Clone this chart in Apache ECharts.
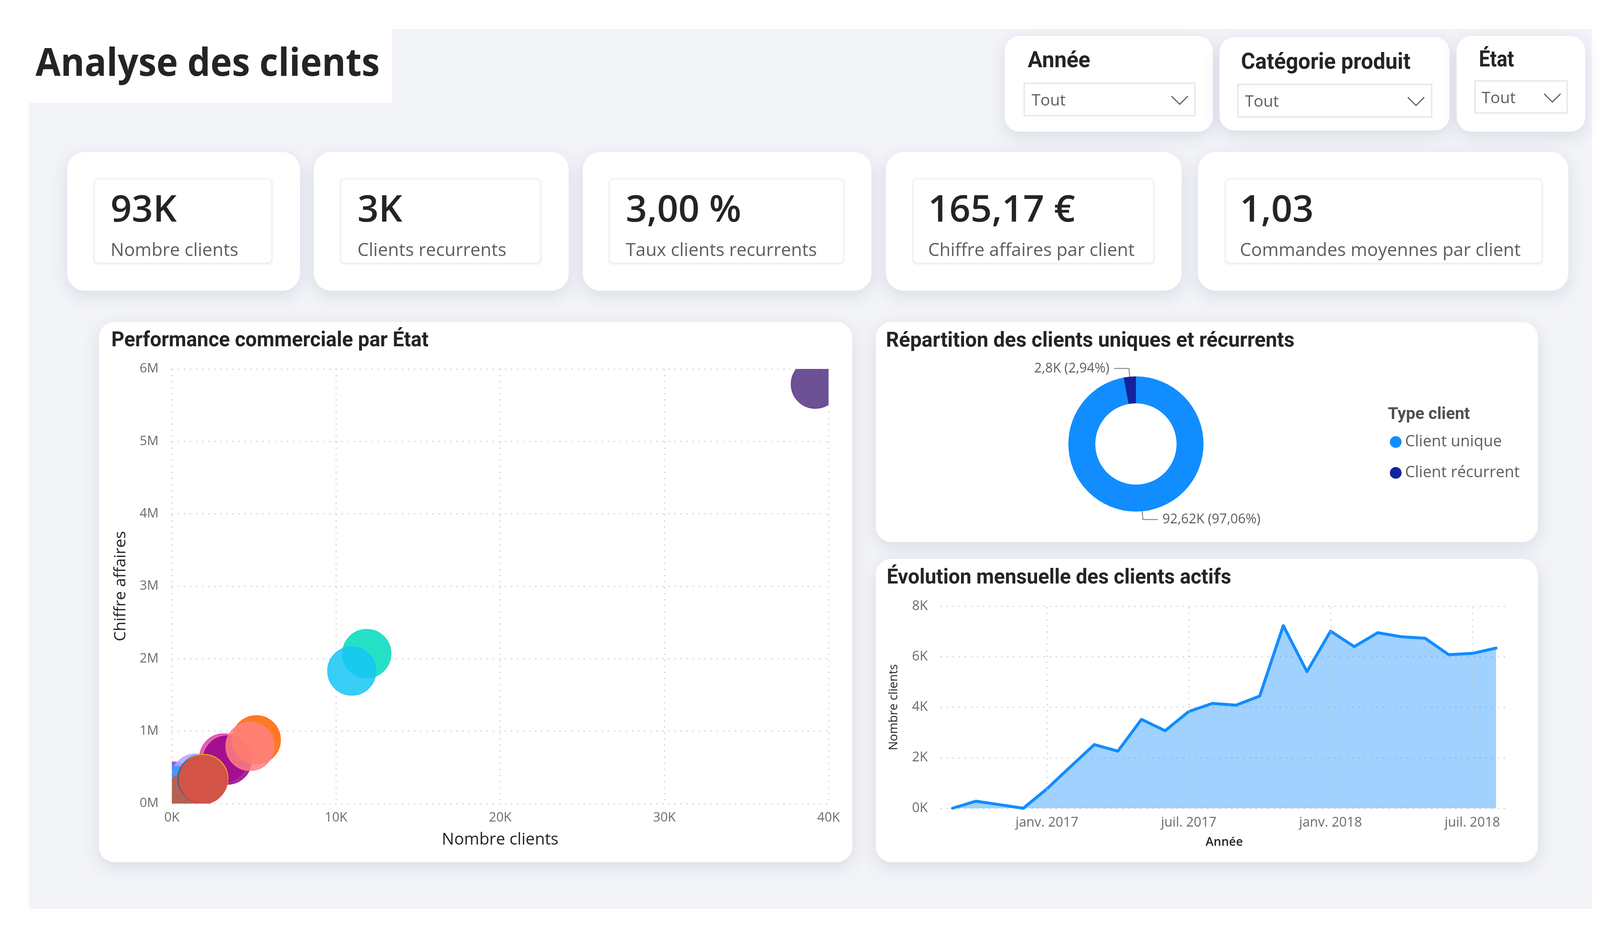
<!DOCTYPE html>
<html>
<head>
<meta charset="utf-8">
<script src="https://cdn.jsdelivr.net/npm/echarts@6/dist/echarts.min.js"></script>
<style>
html,body{margin:0;padding:0;background:#ffffff;}
#c{width:4150px;height:2400px;}
</style>
</head>
<body>
<div id="c"></div>
<script>
// ---------------- DATA ----------------
const pageTitle = 'Analyse des clients';
const slicerTitles = ['Année', 'Catégorie produit', 'État'];
const slicerValues = ['Tout', 'Tout', 'Tout'];
const kpiValues = ['93K', '3K', '3,00 %', '165,17 €', '1,03'];
const kpiLabels = ['Nombre clients', 'Clients recurrents', 'Taux clients recurrents', 'Chiffre affaires par client', 'Commandes moyennes par client'];

const scatterTitle = 'Performance commerciale par État';
const states = ['SP', 'RJ', 'MG', 'BA', 'SC', 'RS', 'PR', 'MA', 'PE', 'CE', 'PA', 'GO', 'ES', 'DF'];
const stateClients = [39200, 11870, 10960, 3160, 3380, 5140, 4760, 50, 1430, 190, 900, 1830, 1950, 1900];
const stateRevenue = [5790000, 2070000, 1830000, 630000, 600000, 880000, 790000, 240000, 350000, 180000, 80000, 340000, 345000, 330000];

const donutTitle = 'Répartition des clients uniques et récurrents';
const legendTitle = 'Type client';
const clientTypes = ['Client unique', 'Client récurrent'];
const clientCounts = [92620, 2801];

const lineTitle = 'Évolution mensuelle des clients actifs';
const months = ['sept. 2016', 'oct. 2016', 'nov. 2016', 'déc. 2016', 'janv. 2017', 'févr. 2017', 'mars 2017', 'avr. 2017', 'mai 2017', 'juin 2017', 'juil. 2017', 'août 2017', 'sept. 2017', 'oct. 2017', 'nov. 2017', 'déc. 2017', 'janv. 2018', 'févr. 2018', 'mars 2018', 'avr. 2018', 'mai 2018', 'juin 2018', 'juil. 2018', 'août 2018'];
const activeClients = [0, 280, null, 0, 770, 1650, 2520, 2260, 3520, 3070, 3830, 4150, 4080, 4440, 7230, 5410, 7010, 6400, 6950, 6790, 6730, 6080, 6130, 6340];
const monthTicks = ['janv. 2017', 'juil. 2017', 'janv. 2018', 'juil. 2018'];

// ---------------- STYLE ----------------
const stateColors = ['#533285', '#00DBBC', '#15C6F4', '#E044A7', '#99008A', '#FF6300', '#FF8080', '#744EC2', '#B5A1FF', '#4092FF', '#C65A35', '#197278', '#D9B300', '#D64550'];
const donutColors = ['#118DFF', '#12239E'];
const SEGOE = '"Open Sans", "Noto Sans", sans-serif';
const DIN = 'Roboto, "Open Sans", sans-serif';
const GRID_LINE = { color: '#c6c6c6', width: 2.5, type: [3, 12.5] };
const LABEL_GREY = '#6b6b6b';
const BUBBLE_R = 62;

const measureCtx = document.createElement('canvas').getContext('2d');
function fitScale(str, font, targetWidth) {
  if (!targetWidth) return 1;
  measureCtx.font = font;
  const w = measureCtx.measureText(str).width;
  return w > 0 ? targetWidth / w : 1;
}

function fmtThousands(v) {
  return (v / 1000).toFixed(2).replace(/0+$/, '').replace(/\.$/, '').replace('.', ',') + 'K';
}

function buildGraphics() {
  const els = [];
  function rect(x1, y1, x2, y2, style, r, z) {
    els.push({ type: 'rect', z: z === undefined ? -10 : z, silent: true,
      shape: { x: x1, y: y1, width: x2 - x1, height: y2 - y1, r: r || 0 }, style: style });
  }
  function card(x1, y1, x2, y2, r) {
    rect(x1, y1, x2, y2, { fill: '#ffffff', shadowBlur: 45, shadowOffsetY: 12, shadowColor: 'rgba(35,55,110,0.13)' }, r || 40, -9);
  }
  function text(str, x, y, font, fill, targetWidth) {
    const s = fitScale(str, font, targetWidth);
    els.push({ type: 'text', z: 20, silent: true, x: x, y: y, scaleX: s, scaleY: 1, originX: 0, originY: 0,
      style: { text: str, font: font, fill: fill, textAlign: 'left', align: 'left',
        textVerticalAlign: 'middle', verticalAlign: 'middle' } });
  }

  rect(74, 74, 4075, 2325, { fill: '#f3f4f8' }, 0, -20);
  rect(74, 74, 1003, 263, { fill: '#ffffff' }, 0, -15);
  text(pageTitle, 91, 166, '700 98px ' + SEGOE, '#252423', 881);

  const slicerBoxes = [
    { card: [2572, 92, 3105, 337], title: [2631, 158, 160], box: [2622, 213, 3059, 296], val: [2641, 258], chev: [3020, 246, 267] },
    { card: [3122, 95, 3711, 334], title: [3177, 162, 434], box: [3169, 216, 3665, 299], val: [3187, 261], chev: [3625, 249, 270] },
    { card: [3729, 92, 4058, 337], title: [3786, 156, 90], box: [3776, 207, 4012, 289], val: [3793, 252], chev: [3974, 240, 261] }
  ];
  slicerBoxes.forEach(function (s, i) {
    card(s.card[0], s.card[1], s.card[2], s.card[3], 38);
    text(slicerTitles[i], s.title[0], s.title[1], 'bold 57px ' + DIN, '#252423', s.title[2]);
    rect(s.box[0], s.box[1], s.box[2], s.box[3], { fill: '#ffffff', stroke: '#e4e4e4', lineWidth: 3 }, 0, -5);
    text(slicerValues[i], s.val[0], s.val[1], '400 41px ' + SEGOE, '#605E5C');
    els.push({ type: 'polyline', z: 20, silent: true,
      shape: { points: [[s.chev[0] - 21, s.chev[1]], [s.chev[0], s.chev[2]], [s.chev[0] + 21, s.chev[1]]] },
      style: { stroke: '#505050', lineWidth: 2.5, fill: null } });
  });

  const kpiCards = [[172, 389, 768, 744], [803, 389, 1456, 744], [1492, 389, 2231, 744], [2268, 389, 3025, 744], [3067, 389, 4015, 744]];
  const kpiInner = [[241, 457, 696, 673], [872, 457, 1384, 673], [1560, 457, 2160, 673], [2337, 457, 2954, 673], [3137, 457, 3948, 673]];
  const kpiTextX = [283, 915, 1602, 2376, 3174];
  kpiCards.forEach(function (c, i) {
    card(c[0], c[1], c[2], c[3], 45);
    const b = kpiInner[i];
    rect(b[0], b[1], b[2], b[3], { fill: '#ffffff', stroke: '#ededed', lineWidth: 2, shadowBlur: 6, shadowOffsetY: 3, shadowColor: 'rgba(0,0,0,0.06)' }, 10, -5);
    text(kpiValues[i], kpiTextX[i], 540, '600 95px ' + SEGOE, '#252423');
    text(kpiLabels[i], kpiTextX[i], 642, '400 46px ' + SEGOE, '#605E5C');
  });

  card(253, 824, 2182, 2206, 40);
  card(2242, 824, 3937, 1387, 40);
  card(2242, 1430, 3937, 2206, 40);
  text(scatterTitle, 285, 873, 'bold 53px ' + DIN, '#252423', 812);
  text(donutTitle, 2268, 874, 'bold 53px ' + DIN, '#252423', 1046);
  text(lineTitle, 2270, 1480, 'bold 53px ' + DIN, '#252423', 882);
  text(legendTitle, 3553, 1061, 'bold 42px ' + DIN, '#505050', 210);
  return els;
}

const chart = echarts.init(document.getElementById('c'), null, { renderer: 'canvas' });

function render() {
  chart.setOption({
    animation: false,
    backgroundColor: '#ffffff',
    textStyle: { fontFamily: SEGOE },
    graphic: { elements: buildGraphics() },
    grid: [
      { left: 440, top: 944, width: 1681, height: 1112, outerBoundsMode: 'none', containLabel: false },
      { left: 2408, top: 1551, width: 1452, height: 517, outerBoundsMode: 'none', containLabel: false }
    ],
    xAxis: [
      {
        gridIndex: 0, type: 'value', min: 0, max: 40000, interval: 10000,
        axisLine: { show: false }, axisTick: { show: false },
        splitLine: { show: true, lineStyle: GRID_LINE },
        axisLabel: { formatter: function (v) { return (v / 1000) + 'K'; }, color: LABEL_GREY, fontSize: 33, margin: 20, fontFamily: SEGOE },
        name: 'Nombre clients', nameLocation: 'middle', nameGap: 72, nameMoveOverlap: false,
        nameTextStyle: { fontSize: 42, color: '#252423', fontFamily: SEGOE }
      },
      {
        gridIndex: 1, type: 'category', data: months, boundaryGap: true,
        axisLine: { show: false }, axisTick: { show: false },
        splitLine: { show: false },
        axisLabel: { interval: function (i, v) { return monthTicks.indexOf(v) >= 0; }, color: LABEL_GREY, fontSize: 34, margin: 20, fontFamily: SEGOE },
        name: 'Année', nameLocation: 'middle', nameGap: 72, nameMoveOverlap: false,
        nameTextStyle: { fontSize: 31, fontWeight: 600, color: '#252423', fontFamily: SEGOE }
      }
    ],
    yAxis: [
      {
        gridIndex: 0, type: 'value', min: 0, max: 6000000, interval: 1000000,
        axisLine: { show: false }, axisTick: { show: false },
        splitLine: { show: true, lineStyle: GRID_LINE },
        axisLabel: { formatter: function (v) { return (v / 1000000) + 'M'; }, color: LABEL_GREY, fontSize: 33, margin: 34, fontFamily: SEGOE },
        name: 'Chiffre affaires', nameLocation: 'middle', nameGap: 110, nameMoveOverlap: false,
        nameTextStyle: { fontSize: 41, color: '#252423', fontFamily: SEGOE }
      },
      {
        gridIndex: 1, type: 'value', min: 0, max: 8000, interval: 2000,
        axisLine: { show: false }, axisTick: { show: false },
        splitLine: { show: true, lineStyle: GRID_LINE },
        axisLabel: { formatter: function (v) { return (v / 1000) + 'K'; }, color: LABEL_GREY, fontSize: 34, margin: 33, fontFamily: SEGOE },
        name: 'Nombre clients', nameLocation: 'middle', nameGap: 104, nameMoveOverlap: false,
        nameTextStyle: { fontSize: 31, color: '#252423', fontFamily: SEGOE }
      }
    ],
    legend: {
      data: clientTypes, orient: 'vertical', left: 3553, top: 1106,
      itemWidth: 30, itemHeight: 30, itemGap: 39, icon: 'circle', selectedMode: false,
      textStyle: { fontSize: 40, color: '#605E5C', fontFamily: SEGOE, padding: [0, 0, 0, 4] }
    },
    series: [
      {
        type: 'custom', xAxisIndex: 0, yAxisIndex: 0, clip: true,
        encode: { x: 0, y: 1 },
        data: states.map(function (s, i) { return { name: s, value: [stateClients[i], stateRevenue[i]] }; }),
        renderItem: function (params, api) {
          const p = api.coord([api.value(0), api.value(1)]);
          const c = stateColors[params.dataIndex];
          const cs = params.coordSys;
          return {
            type: 'circle',
            shape: { cx: p[0], cy: p[1], r: BUBBLE_R },
            style: { fill: c, stroke: c, lineWidth: 2, opacity: 0.85 },
            clipPath: { type: 'rect', shape: { x: cs.x, y: cs.y, width: cs.width, height: cs.height } }
          };
        },
        emphasis: { disabled: true }
      },
      {
        type: 'pie', center: [2908, 1136], radius: [104, 173], startAngle: 90, clockwise: true,
        avoidLabelOverlap: false, color: donutColors,
        data: clientTypes.map(function (t, i) { return { name: t, value: clientCounts[i] }; }),
        label: {
          show: true, position: 'outside', fontSize: 34, color: '#605E5C', fontFamily: SEGOE, distanceToLabelLine: 12,
          formatter: function (p) { return fmtThousands(p.value) + ' (' + p.percent.toFixed(2).replace('.', ',') + '%)'; }
        },
        labelLine: { show: true, length: 21, length2: 38, lineStyle: { color: '#8a8a8a', width: 2.5 } },
        itemStyle: { borderWidth: 0 },
        emphasis: { disabled: true }
      },
      {
        type: 'line', xAxisIndex: 1, yAxisIndex: 1, data: activeClients, connectNulls: true,
        showSymbol: false, symbol: 'none',
        lineStyle: { color: '#118DFF', width: 7.5, cap: 'round', join: 'round' },
        itemStyle: { color: '#118DFF' },
        areaStyle: { color: '#118DFF', opacity: 0.4 },
        markLine: {
          silent: true, symbol: ['none', 'none'], label: { show: false },
          lineStyle: GRID_LINE, emphasis: { disabled: true },
          data: monthTicks.map(function (m) { return { xAxis: m }; })
        },
        emphasis: { disabled: true }
      }
    ]
  }, true);
}

render();
if (document.fonts && document.fonts.ready) {
  document.fonts.ready.then(function () { render(); });
}
</script>
</body>
</html>
